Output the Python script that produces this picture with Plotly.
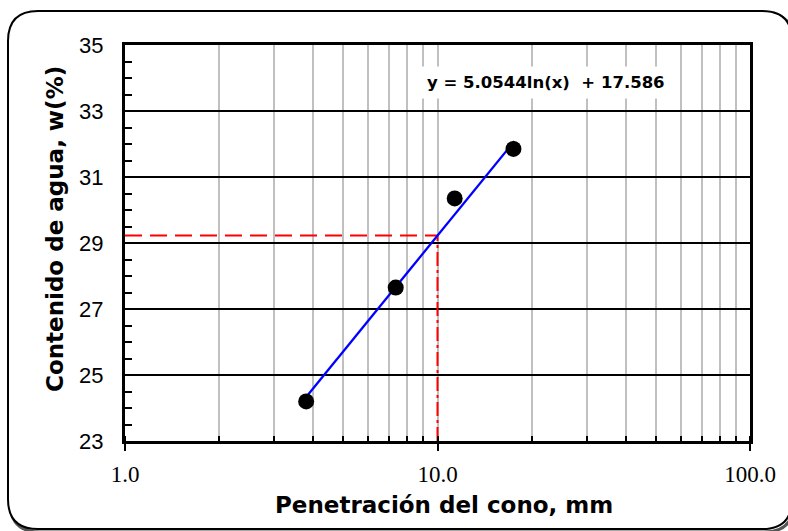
import math
import plotly.graph_objects as go

# ---- data ----
penetration_mm = [3.8, 7.35, 11.35, 17.5]
water_content = [24.2, 27.65, 30.35, 31.85]
fit_a = 5.0544
fit_b = 17.586
fit_x_range = [3.8, 17.6]
ref_penetration = 10.0
x_tickvals = [1, 10, 100]
x_ticktext = ["1.0", "10.0", "100.0"]
y_tickvals = [23, 25, 27, 29, 31, 33, 35]
equation_text = "y = 5.0544ln(x)  + 17.586"

W, H = 788, 531
L, R, T, B = 125, 38, 45, 90
PW, PH = W - L - R, H - T - B


def px(x):
    # x in page pixels -> paper
    return (x - L) / PW


def py(y):
    return (H - B - y) / PH


def rounded_rect(x0, y0, x1, y1, r):
    pts = [
        f"M {px(x0 + r)},{py(y0)}",
        f"L {px(x1 - r)},{py(y0)}",
        f"Q {px(x1)},{py(y0)} {px(x1)},{py(y0 + r)}",
        f"L {px(x1)},{py(y1 - r)}",
        f"Q {px(x1)},{py(y1)} {px(x1 - r)},{py(y1)}",
        f"L {px(x0 + r)},{py(y1)}",
        f"Q {px(x0)},{py(y1)} {px(x0)},{py(y1 - r)}",
        f"L {px(x0)},{py(y0 + r)}",
        f"Q {px(x0)},{py(y0)} {px(x0 + r)},{py(y0)} Z",
    ]
    return " ".join(pts)


fit_y = [fit_a * math.log(v) + fit_b for v in fit_x_range]
w_ref = fit_a * math.log(ref_penetration) + fit_b

fig = go.Figure()

# red reference lines
fig.add_trace(go.Scatter(x=[1, ref_penetration], y=[w_ref, w_ref], mode="lines",
                         line=dict(color="#ff0000", width=2, dash="17px,8px"),
                         hoverinfo="skip", showlegend=False))
fig.add_trace(go.Scatter(x=[ref_penetration, ref_penetration], y=[23, w_ref], mode="lines",
                         line=dict(color="#ff0000", width=2, dash="14px,4px,3px,4px"),
                         hoverinfo="skip", showlegend=False))
# trend line
fig.add_trace(go.Scatter(x=fit_x_range, y=fit_y, mode="lines",
                         line=dict(color="#0000ff", width=2.3),
                         showlegend=False))
# data points
fig.add_trace(go.Scatter(x=penetration_mm, y=water_content, mode="markers",
                         marker=dict(color="black", size=16),
                         showlegend=False))

fig.update_xaxes(
    type="log", range=[0, 2],
    tickvals=x_tickvals, ticktext=x_ticktext,
    tickfont=dict(family="Liberation Serif", size=23, color="black"),
    ticks="outside", ticklen=7, tickwidth=2, tickcolor="black",
    showgrid=True, gridcolor="#c0c0c0", gridwidth=2,
    showline=True, linecolor="black", linewidth=3, mirror=True,
    minor=dict(ticks="inside", ticklen=5, tickwidth=1.5, tickcolor="black",
               dtick="D1", showgrid=True, gridcolor="#c0c0c0", gridwidth=2),
    ticklabelstandoff=3,
    zeroline=False,
    automargin=False,
)
fig.update_yaxes(
    range=[23, 35], tickvals=y_tickvals,
    tickfont=dict(family="Liberation Sans", size=22, color="black"),
    ticks="inside", ticklen=7, tickwidth=2, tickcolor="black",
    showgrid=True, gridcolor="black", gridwidth=1.5,
    showline=True, linecolor="black", linewidth=3, mirror=True,
    minor=dict(ticks="inside", ticklen=7, tickwidth=2, tickcolor="black",
               dtick=0.5, showgrid=False),
    ticklabelstandoff=14,
    zeroline=False,
    automargin=False,
)

shapes = [
    dict(type="path", xref="paper", yref="paper", layer="below",
         path=rounded_rect(10, 13, 794, 532, 30),
         line=dict(color="#555555", width=3)),
    dict(type="path", xref="paper", yref="paper", layer="below",
         path=rounded_rect(8, 11, 792, 529, 30),
         fillcolor="white", line=dict(color="black", width=2)),
]

annotations = [
    dict(x=px(546), y=py(82), xref="paper", yref="paper", text=f"<b>{equation_text}</b>",
         xanchor="center", yanchor="middle",
         showarrow=False, bgcolor="white", borderpad=6,
         font=dict(family="DejaVu Sans", size=16.5, color="black")),
    dict(x=px(444), y=py(505), xref="paper", yref="paper", text="<b>Penetración del cono, mm</b>",
         xanchor="center", yanchor="middle",
         showarrow=False, font=dict(family="DejaVu Sans", size=23, color="black")),
    dict(x=px(55), y=py(229), xref="paper", yref="paper", text="<b>Contenido de agua, w(%)</b>",
         xanchor="center", yanchor="middle",
         showarrow=False, textangle=-90, font=dict(family="DejaVu Sans", size=23, color="black")),
]

fig.update_layout(
    width=W, height=H,
    margin=dict(l=L, r=R, t=T, b=B, autoexpand=False),
    paper_bgcolor="white", plot_bgcolor="rgba(0,0,0,0)",
    shapes=shapes, annotations=annotations,
    showlegend=False,
)

fig.write_html("out.html",
               config={"displayModeBar": False},
               post_script="document.body.style.margin='0';document.body.style.overflow='hidden';")
